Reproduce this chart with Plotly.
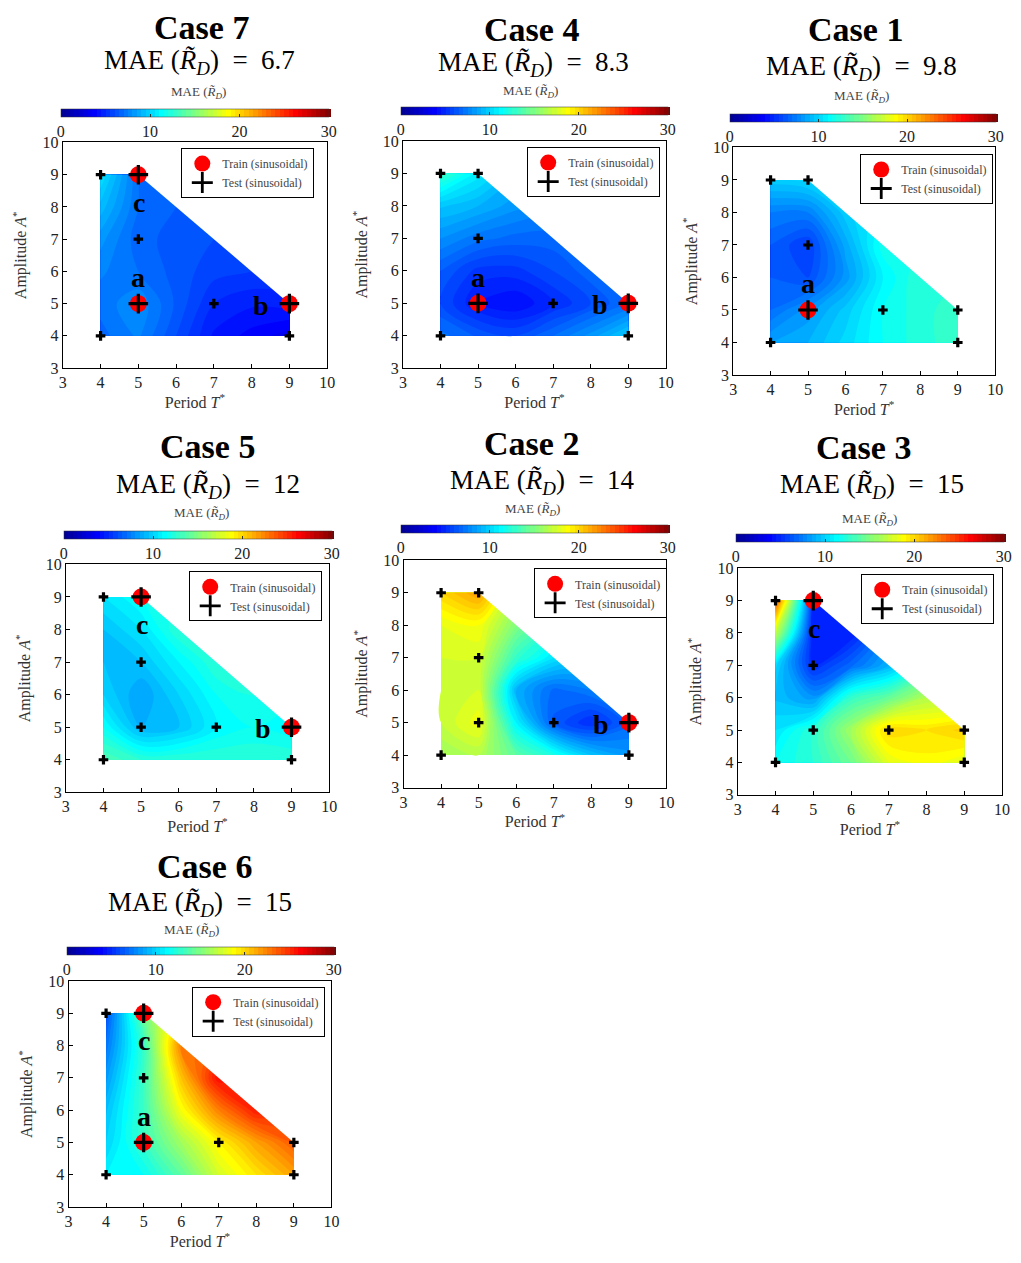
import plotly.graph_objects as go

# ---------------- data ----------------
T_GRID = [4, 5, 6, 7, 8, 9]          # Period T*
A_GRID = [4, 5, 6, 7, 8, 9]          # Amplitude A*
N = None

case_names = ["Case 7", "Case 4", "Case 1", "Case 5", "Case 2", "Case 3", "Case 6"]
case_mae = ["6.7", "8.3", "9.8", "12", "14", "15", "15"]

# MAE field (rows: A = 4..9, cols: T = 4..9)
mae_case7 = [
    [6.8, 7.6, 6.0, 4.4, 3.8, 3.2],
    [7.2, 7.9, 6.4, 5.0, 4.6, 4.8],
    [7.6, 7.0, 6.3, 5.7, 5.5, N],
    [8.2, 6.7, 6.3, 6.0, N, N],
    [9.3, 7.0, 6.5, N, N, N],
    [10.5, 7.0, N, N, N, N],
]
mae_case4 = [
    [7.2, 6.4, 6.0, 7.0, 8.2, 9.8],
    [6.0, 4.5, 4.0, 5.0, 6.0, 7.0],
    [6.5, 5.3, 5.3, 6.0, 6.8, N],
    [8.0, 7.2, 6.8, 6.8, N, N],
    [9.6, 9.0, 8.2, N, N, N],
    [13.0, 10.8, N, N, N, N],
]
mae_case1 = [
    [8.5, 9.0, 10.2, 11.5, 12.3, 12.8],
    [7.0, 8.2, 9.7, 11.5, 12.3, 12.8],
    [6.5, 6.0, 8.2, 11.0, 12.5, N],
    [6.5, 5.5, 8.7, 11.8, N, N],
    [7.5, 7.5, 9.8, N, N, N],
    [9.8, 10.2, N, N, N, N],
]
mae_case5 = [
    [13.5, 12.5, 12.5, 12.5, 12.5, 12.5],
    [11.5, 9.0, 9.5, 11.0, 11.5, 11.0],
    [10.0, 8.5, 10.0, 11.5, 12.0, N],
    [9.5, 9.5, 11.0, 12.5, N, N],
    [9.5, 10.5, 12.5, N, N, N],
    [10.5, 11.5, N, N, N, N],
]
mae_case2 = [
    [16.0, 16.5, 14.0, 12.0, 9.5, 8.2],
    [17.0, 18.3, 11.0, 6.4, 5.0, 6.8],
    [17.0, 17.5, 9.0, 6.8, 7.5, N],
    [17.5, 17.5, 12.8, 10.5, N, N],
    [18.0, 18.5, 15.0, N, N, N],
    [20.0, 21.5, N, N, N, N],
]
mae_case3 = [
    [11.5, 12.5, 14.5, 18.0, 18.8, 18.0],
    [10.5, 12.5, 16.0, 19.9, 19.5, 20.2],
    [9.4, 8.2, 12.8, 14.2, 16.5, N],
    [10.2, 5.0, 6.8, 9.0, N, N],
    [17.0, 4.5, 4.5, N, N, N],
    [24.0, 5.0, N, N, N, N],
]
mae_case6 = [
    [11.0, 11.5, 14.0, 17.5, 19.5, 21.5],
    [10.0, 12.8, 16.0, 19.0, 21.5, 23.6],
    [9.4, 13.0, 18.5, 22.5, 25.5, N],
    [8.3, 13.0, 20.5, 26.0, N, N],
    [7.2, 12.8, 22.5, N, N, N],
    [6.0, 14.5, N, N, N, N],
]
case_fields = [mae_case7, mae_case4, mae_case1, mae_case5, mae_case2, mae_case3, mae_case6]

# test points (sinusoidal)
test_T = [4, 4, 5, 5, 5, 7, 9, 9]
test_A = [4, 9, 9, 7, 5, 5, 5, 4]

# training points, labelled a, b, c
label_names = ["a", "b", "c"]
label_T = [5, 9, 5]
label_A = [5, 5, 9]
case_train = [["a", "b", "c"], ["a", "b"], ["a"], ["b", "c"], ["b"], ["c"], ["a", "c"]]

cbar_ticks = [0, 10, 20, 30]
axis_ticks = [3, 4, 5, 6, 7, 8, 9, 10]

# ---------------- layout helpers ----------------
W, H = 1021, 1263
SERIF = "Liberation Serif"
JET = [[0.0, "#00008F"], [0.125, "#0000FF"], [0.375, "#00FFFF"],
       [0.625, "#FFFF00"], [0.875, "#FF0000"], [1.0, "#800000"]]


def fx(px):
    return px / W


def fy(py):
    return 1 - py / H


# pixel geometry of every panel
panels = [
    dict(ax=(59.5, 327, 136.3, 365), title=(200, 20), mae=(198, 55), lab=(197, 86), bar=(59, 327, 102), leg=(314, 142)),
    dict(ax=(403.7, 669.7, 134.8, 365.2), title=(534, 22), mae=(536, 57), lab=(533, 85), bar=(403, 670, 100), leg=(664, 141)),
    dict(ax=(737.8, 1003, 141.4, 372), title=(862, 22), mae=(868, 61), lab=(868, 90), bar=(736, 1002, 107), leg=(1001, 148)),
    dict(ax=(62.6, 329, 564, 795), title=(206, 444), mae=(206, 485), lab=(200, 512), bar=(62, 330, 530), leg=(322, 571)),
    dict(ax=(404.3, 670.3, 559.8, 790.2), title=(534, 441), mae=(545, 480), lab=(535, 508), bar=(403, 670, 524), leg=(671, 568)),
    dict(ax=(742.5, 1009.9, 567.9, 797.5), title=(870, 445), mae=(878, 485), lab=(876, 518), bar=(742, 1010, 533), leg=(1002, 574)),
    dict(ax=(65.3, 331.3, 986.3, 1215.4), title=(203, 870), mae=(198, 908), lab=(190, 935), bar=(65, 332, 952), leg=(325, 992)),
]

# letter offsets (data units) relative to the training point
letter_offset = {"a": (0.0, 0.8), "b": (-0.75, -0.05), "c": (0.02, -0.85)}

fig = go.Figure()
annotations = []
layout_axes = {}

for i, (name, mae, field, train, p) in enumerate(zip(case_names, case_mae, case_fields, case_train, panels)):
    k = "" if i == 0 else str(i + 1)
    xa, ya = "x" + k, "y" + k
    leg = "legend" + k
    x0, x1, y0, y1 = p["ax"]
    bx0, bx1, btop = p["bar"]

    fig.add_trace(go.Contour(
        x=T_GRID, y=A_GRID, z=field, connectgaps=True,
        colorscale=JET, zmin=0, zmax=30, autocontour=False,
        contours=dict(start=0, end=30, size=0.5, coloring="fill", showlines=False),
        line=dict(width=0), hoverinfo="skip", xaxis=xa, yaxis=ya,
        colorbar=dict(orientation="h", x=fx((bx0 + bx1) / 2), xanchor="center",
                      y=fy(btop), yanchor="top", lenmode="pixels", len=bx1 - bx0,
                      thickness=8, xpad=0, ypad=0, tickvals=cbar_ticks,
                      ticks="inside", ticklen=3, tickcolor="#333",
                      tickfont=dict(family=SERIF, size=16, color="#222"),
                      outlinewidth=0.5, outlinecolor="#333"),
    ))

    # white mask beyond the hull diagonal (from (5,9) to (9,5))
    tmax, amax = max(test_T), max(test_A)
    top_T = max(t for t, a in zip(test_T, test_A) if a == amax)
    right_A = max(a for t, a in zip(test_T, test_A) if t == tmax)
    pad = 0.06
    fig.add_trace(go.Scatter(
        x=[top_T, top_T, tmax + pad, tmax + pad, tmax, top_T],
        y=[amax, amax + pad, amax + pad, right_A, right_A, amax],
        mode="lines", fill="toself", fillcolor="white", line=dict(width=0),
        hoverinfo="skip", showlegend=False, xaxis=xa, yaxis=ya,
    ))

    tr_T = [label_T[label_names.index(c)] for c in train]
    tr_A = [label_A[label_names.index(c)] for c in train]
    is_train = [(t, a) in zip(tr_T, tr_A) for t, a in zip(test_T, test_A)]
    fig.add_trace(go.Scatter(
        x=tr_T, y=tr_A, mode="markers", name="Train (sinusoidal)",
        marker=dict(symbol="circle", size=17, color="#FF0000", line=dict(width=0)),
        legend=leg, xaxis=xa, yaxis=ya, hoverinfo="skip",
    ))
    fig.add_trace(go.Scatter(
        x=[None], y=[None], mode="markers", name="Test (sinusoidal)",
        marker=dict(symbol="cross-thin", size=15, color="black", line=dict(width=2.8, color="black")),
        legend=leg, xaxis=xa, yaxis=ya,
    ))
    # small test crosses (filled) and large crosses on the training points
    fig.add_trace(go.Scatter(
        x=[t for t, f in zip(test_T, is_train) if not f],
        y=[a for a, f in zip(test_A, is_train) if not f],
        mode="markers", showlegend=False,
        marker=dict(symbol="cross", size=8, color="black", line=dict(width=0)),
        xaxis=xa, yaxis=ya, hoverinfo="skip",
    ))
    fig.add_trace(go.Scatter(
        x=[t for t, f in zip(test_T, is_train) if f],
        y=[a for a, f in zip(test_A, is_train) if f],
        mode="markers", showlegend=False,
        marker=dict(symbol="cross-thin", size=14, color="black", line=dict(width=3.2, color="black")),
        xaxis=xa, yaxis=ya, hoverinfo="skip",
    ))

    for c in train:
        j = label_names.index(c)
        dx, dy = letter_offset[c]
        annotations.append(dict(
            x=label_T[j] + dx, y=label_A[j] + dy, xref=xa, yref=ya, text="<b>%s</b>" % c,
            showarrow=False, font=dict(family=SERIF, size=28, color="black"),
            xanchor="center", yanchor="middle"))

    axis_common = dict(range=[3, 10], tickvals=axis_ticks, showline=True, mirror=True,
                       linecolor="black", linewidth=1, ticks="inside", ticklen=4,
                       tickcolor="black", showgrid=False, zeroline=False,
                       tickfont=dict(family=SERIF, size=16, color="#222"))
    layout_axes["xaxis" + k] = dict(axis_common, domain=[fx(x0), fx(x1)], anchor=ya,
                                    title=dict(text="Period <i>T</i><sup>*</sup>", standoff=6,
                                               font=dict(family=SERIF, size=16, color="#333")))
    layout_axes["yaxis" + k] = dict(axis_common, domain=[fy(y1), fy(y0)], anchor=xa,
                                    title=dict(text="Amplitude <i>A</i><sup>*</sup>", standoff=11,
                                               font=dict(family=SERIF, size=16, color="#333")))
    layout_axes[leg] = dict(x=fx(p["leg"][0]), y=fy(p["leg"][1]), xanchor="right", yanchor="top",
                            bordercolor="black", borderwidth=1, bgcolor="white",
                            font=dict(family=SERIF, size=12, color="#444"),
                            tracegroupgap=0, itemwidth=30)

    annotations.append(dict(x=fx(p["title"][0]), y=fy(p["title"][1]), xref="paper", yref="paper",
                            text="<b>%s</b>" % name, showarrow=False, xanchor="center", yanchor="middle",
                            font=dict(family=SERIF, size=34, color="black")))
    annotations.append(dict(x=fx(p["mae"][0]), y=fy(p["mae"][1]), xref="paper", yref="paper",
                            text="MAE (<i>R\u0303</i><sub><i>D</i></sub>)\u2002=\u2002%s" % mae, showarrow=False,
                            xanchor="center", yanchor="middle",
                            font=dict(family=SERIF, size=27, color="black")))
    annotations.append(dict(x=fx(p["lab"][0]), y=fy(p["lab"][1]), xref="paper", yref="paper",
                            text="MAE (<i>R\u0303</i><sub><i>D</i></sub>)", showarrow=False,
                            xanchor="center", yanchor="middle",
                            font=dict(family=SERIF, size=13, color="#444")))

fig.update_layout(
    width=W, height=H, margin=dict(l=0, r=0, t=0, b=0),
    paper_bgcolor="white", plot_bgcolor="white",
    font=dict(family=SERIF, color="#222"),
    annotations=annotations, **layout_axes,
)

fig.write_html("out.html")
